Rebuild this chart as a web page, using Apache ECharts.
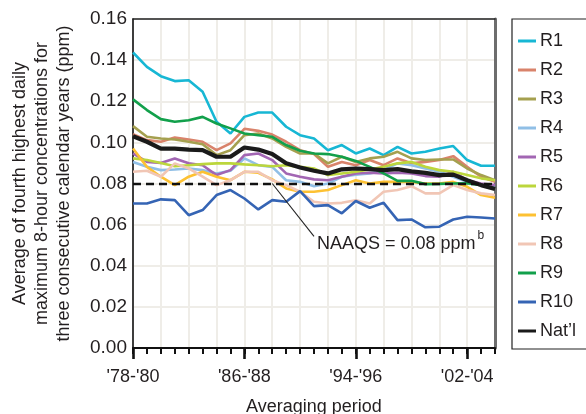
<!DOCTYPE html>
<html>
<head>
<meta charset="utf-8">
<script src="https://cdn.jsdelivr.net/npm/echarts@6/dist/echarts.min.js"></script>
<style>html,body{margin:0;padding:0;background:#fff;}#c{width:586px;height:414px;}</style>
</head>
<body>
<div id="c"></div>
<script>
const categories = ["'78-'80","'79-'81","'80-'82","'81-'83","'82-'84","'83-'85","'84-'86","'85-'87","'86-'88","'87-'89","'88-'90","'89-'91","'90-'92","'91-'93","'92-'94","'93-'95","'94-'96","'95-'97","'96-'98","'97-'99","'98-'00","'99-'01","'00-'02","'01-'03","'02-'04","'03-'05","'04-'06"];
const R1  = [0.1437,0.1367,0.1322,0.1298,0.1302,0.1246,0.1100,0.1043,0.1124,0.1145,0.1145,0.1076,0.1035,0.1019,0.0962,0.0987,0.0946,0.0970,0.0938,0.0978,0.0946,0.0954,0.0970,0.0982,0.0914,0.0886,0.0886];
const R2  = [0.1040,0.1011,0.1003,0.1024,0.1014,0.1003,0.0962,0.0995,0.1066,0.1056,0.1038,0.1003,0.0962,0.0943,0.0881,0.0905,0.0889,0.0914,0.0889,0.0922,0.0898,0.0905,0.0914,0.0933,0.0881,0.0833,0.0808];
const R3  = [0.1079,0.1027,0.1019,0.1014,0.1003,0.0991,0.0938,0.0962,0.1035,0.1043,0.1019,0.0978,0.0946,0.0946,0.0898,0.0930,0.0905,0.0922,0.0930,0.0954,0.0922,0.0914,0.0917,0.0917,0.0873,0.0841,0.0816];
const R4  = [0.0905,0.0881,0.0865,0.0868,0.0873,0.0865,0.0849,0.0862,0.0922,0.0889,0.0881,0.0816,0.0808,0.0787,0.0800,0.0833,0.0843,0.0849,0.0865,0.0898,0.0889,0.0873,0.0857,0.0833,0.0808,0.0792,0.0784];
const R5  = [0.0946,0.0905,0.0900,0.0922,0.0898,0.0889,0.0841,0.0865,0.0938,0.0946,0.0914,0.0849,0.0833,0.0820,0.0816,0.0833,0.0849,0.0852,0.0849,0.0852,0.0849,0.0836,0.0833,0.0857,0.0816,0.0800,0.0792];
const R6  = [0.0922,0.0914,0.0900,0.0884,0.0889,0.0894,0.0898,0.0898,0.0893,0.0889,0.0884,0.0889,0.0881,0.0873,0.0841,0.0849,0.0857,0.0868,0.0881,0.0898,0.0905,0.0881,0.0865,0.0857,0.0841,0.0825,0.0816];
const R7  = [0.0970,0.0881,0.0833,0.0792,0.0833,0.0857,0.0833,0.0816,0.0857,0.0852,0.0820,0.0776,0.0760,0.0760,0.0768,0.0792,0.0816,0.0800,0.0808,0.0808,0.0808,0.0800,0.0800,0.0808,0.0784,0.0744,0.0731];
const R8  = [0.0857,0.0862,0.0833,0.0898,0.0873,0.0833,0.0792,0.0816,0.0857,0.0857,0.0816,0.0792,0.0760,0.0711,0.0703,0.0706,0.0719,0.0703,0.0760,0.0768,0.0787,0.0752,0.0752,0.0792,0.0768,0.0752,0.0744];
const R9  = [0.1209,0.1157,0.1113,0.1100,0.1108,0.1124,0.1092,0.1068,0.1043,0.1035,0.1027,0.0987,0.0959,0.0946,0.0943,0.0930,0.0910,0.0881,0.0849,0.0813,0.0813,0.0797,0.0798,0.0800,0.0801,0.0792,0.0776];
const R10 = [0.0703,0.0703,0.0723,0.0719,0.0646,0.0671,0.0744,0.0768,0.0727,0.0674,0.0719,0.0711,0.0763,0.0690,0.0695,0.0655,0.0715,0.0682,0.0706,0.0622,0.0625,0.0587,0.0590,0.0625,0.0638,0.0635,0.0630];
const NAT = [0.1030,0.1003,0.0970,0.0970,0.0965,0.0962,0.0930,0.0930,0.0975,0.0965,0.0943,0.0898,0.0878,0.0862,0.0849,0.0869,0.0873,0.0870,0.0865,0.0870,0.0859,0.0852,0.0841,0.0843,0.0816,0.0792,0.0773];
const NAAQS = 0.08;
const yTicks = [0, 0.02, 0.04, 0.06, 0.08, 0.10, 0.12, 0.14, 0.16];
const seriesNames = ['R1','R2','R3','R4','R5','R6','R7','R8','R9','R10',"Nat\u2019l"];
const seriesData = [R1,R2,R3,R4,R5,R6,R7,R8,R9,R10,NAT];
const colors = ['#17b7d4','#d9836b','#a5a04f','#90bfe6','#a266b3','#bcd63c','#fdc132','#f1c6b5','#12a04b','#3564b4','#1a1a1a'];

const FONT = "'Liberation Sans', Arial, sans-serif";
const FS = 18;
const TXT = '#231f20';
const GRIDC = '#efede8';

const chart = echarts.init(document.getElementById('c'), null, {renderer: 'canvas'});

const series = seriesData.map((d, i) => {
  const isNat = i === seriesData.length - 1;
  const s = {
    name: seriesNames[i],
    type: 'line',
    data: d,
    xAxisIndex: 0,
    yAxisIndex: 0,
    showSymbol: false,
    symbol: 'none',
    smooth: false,
    animation: false,
    z: isNat ? 4 : 3,
    lineStyle: {color: colors[i], width: isNat ? 4.2 : 2.6},
    itemStyle: {color: colors[i]}
  };
  if (isNat) {
    s.markLine = {
      silent: true,
      symbol: 'none',
      label: {show: false},
      animation: false,
      lineStyle: {color: '#111', width: 2.4, type: [8, 5]},
      data: [{yAxis: NAAQS}]
    };
  }
  return s;
});

const option = {
  animation: false,
  textStyle: {fontFamily: FONT},
  color: colors,
  grid: {left: 133, right: 91, top: 19, bottom: 66, containLabel: false, outerBoundsMode: 'none'},
  legend: {
    orient: 'vertical',
    left: 512, top: 19,
    padding: [12, 42, 8, 6],
    itemGap: 9,
    itemWidth: 18,
    itemHeight: 3,
    icon: 'rect',
    borderColor: '#222',
    borderWidth: 1.2,
    textStyle: {fontFamily: FONT, fontSize: FS, color: TXT, lineHeight: 20, padding: [0,0,0,-1]},
    data: seriesNames.map((n, i) => ({name: n, icon: 'rect', itemStyle: {color: colors[i]}}))
  },
  xAxis: [
    {
      type: 'category', data: categories, boundaryGap: false, position: 'bottom',
      name: 'Averaging period', nameLocation: 'middle', nameGap: 50,
      nameTextStyle: {fontFamily: FONT, fontSize: FS, color: TXT},
      axisLine: {show: true, lineStyle: {color: '#111', width: 2.2}},
      axisTick: {show: true, interval: 0, length: 6, lineStyle: {color: '#111', width: 2}},
      axisLabel: {interval: 7, fontSize: FS, color: TXT, margin: 20, fontFamily: FONT},
      splitLine: {show: true, interval: 1, lineStyle: {color: GRIDC, width: 2}}
    },
    {
      type: 'category', data: categories, boundaryGap: false, position: 'bottom',
      axisLine: {show: false},
      axisTick: {show: true, interval: 7, length: 11, lineStyle: {color: '#111', width: 2.6}},
      axisLabel: {show: false},
      splitLine: {show: false}
    },
    {
      type: 'category', data: categories, boundaryGap: false, position: 'top',
      axisLine: {show: true, lineStyle: {color: '#222', width: 1.5}},
      axisTick: {show: false}, axisLabel: {show: false}, splitLine: {show: false}
    }
  ],
  yAxis: [
    {
      type: 'value', min: 0, max: 0.16, interval: 0.02, position: 'left',
      name: 'Average of fourth highest daily\nmaximum 8-hour concentrations for\nthree consecutive calendar years (ppm)',
      nameLocation: 'middle', nameGap: 58, nameRotate: 90,
      nameTextStyle: {fontFamily: FONT, fontSize: FS, color: TXT, lineHeight: 22, align: 'center'},
      axisLine: {show: true, lineStyle: {color: '#111', width: 1.6}},
      axisTick: {show: false},
      axisLabel: {fontSize: 19, color: TXT, margin: 6, fontFamily: FONT,
        formatter: v => { const t = yTicks.find(k => Math.abs(k - v) < 1e-9); return (t === undefined ? v : t).toFixed(2); }},
      splitLine: {show: true, lineStyle: {color: GRIDC, width: 2}}
    },
    {
      type: 'value', min: 0, max: 0.16, interval: 0.02, position: 'right',
      axisLine: {show: true, lineStyle: {color: '#6d6d6d', width: 3}},
      axisTick: {show: false}, axisLabel: {show: false}, splitLine: {show: false}
    }
  ],
  series: series
};
chart.setOption(option);

// annotation for the NAAQS line, anchored in data coordinates
const p0 = chart.convertToPixel({xAxisIndex: 0, yAxisIndex: 0}, [10, NAAQS]);
const p1 = chart.convertToPixel({xAxisIndex: 0, yAxisIndex: 0}, [13.25, 0.0543]);
const label = 'NAAQS = 0.08 ppm';
const ctx = document.createElement('canvas').getContext('2d');
ctx.font = FS + 'px ' + FONT;
const lw = ctx.measureText(label).width;
chart.setOption({
  graphic: [
    {type: 'line', z: 10, shape: {x1: p0[0], y1: p0[1], x2: p1[0], y2: p1[1]}, style: {stroke: '#222', lineWidth: 1.1}},
    {type: 'text', z: 10, x: p1[0] + 3, y: p1[1] + 8, style: {text: label, fontFamily: FONT, fontSize: FS, fill: TXT, verticalAlign: 'middle'}},
    {type: 'text', z: 10, x: p1[0] + 5 + lw, y: p1[1] - 1, style: {text: 'b', fontFamily: FONT, fontSize: 12, fill: TXT, verticalAlign: 'middle'}}
  ]
});
</script>
</body>
</html>
